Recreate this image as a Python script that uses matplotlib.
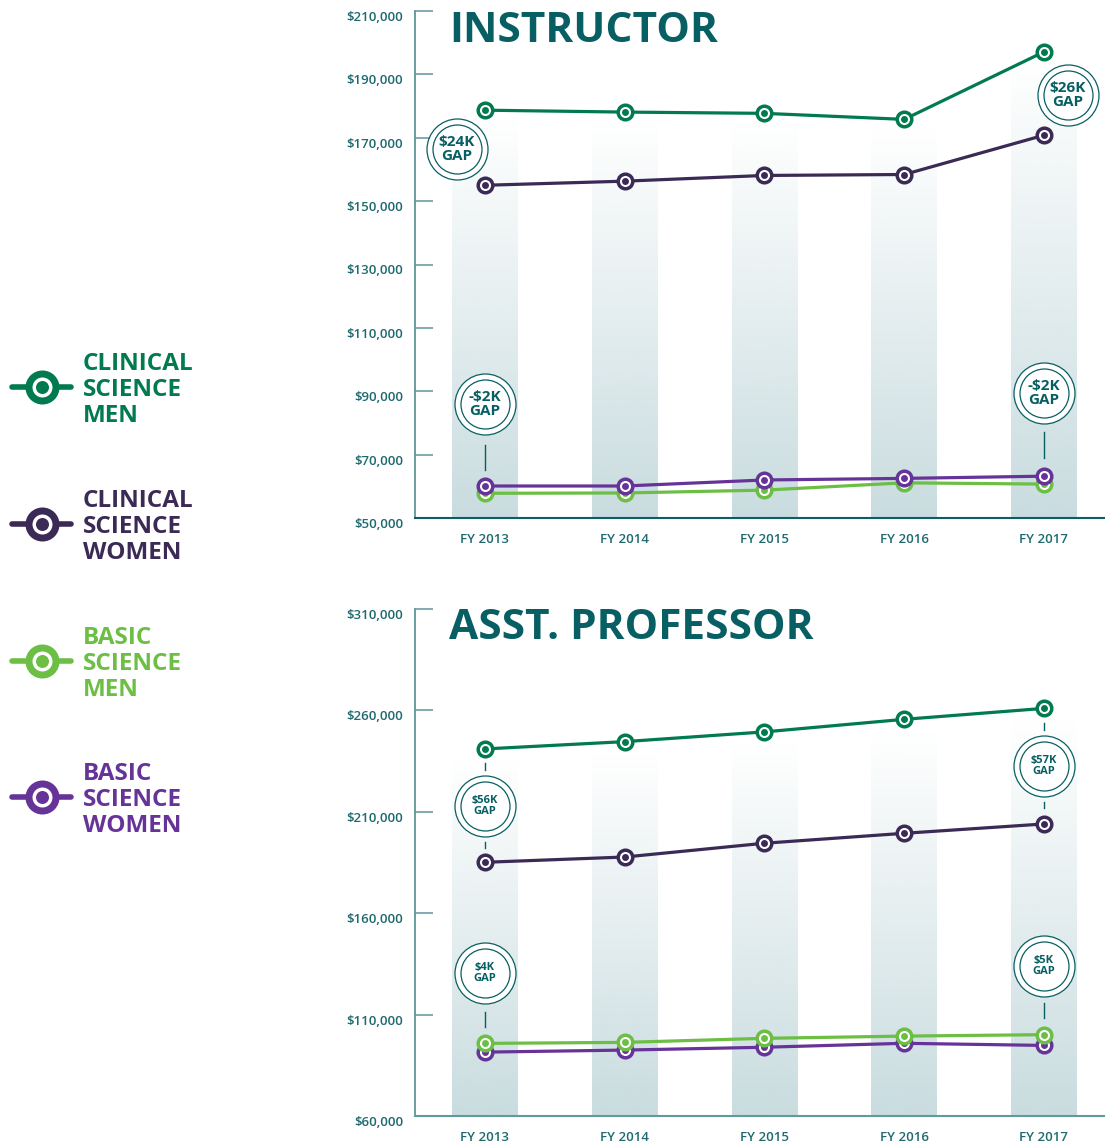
import matplotlib
matplotlib.use('Agg')
import matplotlib.pyplot as plt
import numpy as np
from matplotlib.colors import to_rgb

plt.rcParams['font.family'] = ['Open Sans', 'DejaVu Sans']

# ---------------- data ----------------
years = ['FY 2013', 'FY 2014', 'FY 2015', 'FY 2016', 'FY 2017']

inst_clin_men = [178700, 178100, 177700, 175800, 197100]
inst_clin_women = [155000, 156300, 158100, 158400, 170800]
inst_basic_men = [57800, 57900, 58800, 61100, 60700]
inst_basic_women = [60100, 60100, 62000, 62500, 63200]

asst_clin_men = [241000, 244600, 249400, 255600, 261000]
asst_clin_women = [185100, 187700, 194500, 199400, 204000]
asst_basic_men = [95800, 96300, 98300, 99400, 100100]
asst_basic_women = [91500, 92500, 93900, 95850, 94800]

inst_ticks = [50000, 70000, 90000, 110000, 130000, 150000, 170000, 190000, 210000]
asst_ticks = [60000, 110000, 160000, 210000, 260000, 310000]

legend_labels = [['CLINICAL', 'SCIENCE', 'MEN'],
                 ['CLINICAL', 'SCIENCE', 'WOMEN'],
                 ['BASIC', 'SCIENCE', 'MEN'],
                 ['BASIC', 'SCIENCE', 'WOMEN']]

# gap badges: (x index, y centre, label, connector segments)
inst_badges = [(-0.2, 166400, '$24K\nGAP', []),
               (4.17, 183400, '$26K\nGAP', []),
               (0, 86000, '-$2K\nGAP', [(65100, 73000)]),
               (4, 89400, '-$2K\nGAP', [(68900, 77100)])]
asst_badges = [(0, 212900, '$56K\nGAP', [(230600, 234000), (192200, 195100)]),
               (4, 232600, '$57K\nGAP', [(250300, 253800), (211900, 214800)]),
               (0, 130500, '$4K\nGAP', [(103900, 111300)]),
               (4, 134000, '$5K\nGAP', [(108300, 115700)])]

# ---------------- style ----------------
C_CM = '#007a4e'
C_CW = '#3b2a55'
C_BM = '#6cbe45'
C_BW = '#663399'
TEAL = '#075f63'
AXIS = '#5f959a'
BAND = '#c9dcdf'

W, H = 1105, 1145
fig = plt.figure(figsize=(W / 100, H / 100), dpi=100)
px = 0.72  # points per pixel

x = np.arange(len(years))


def series(ax, y, color, z):
    ax.plot(x, y, color=color, lw=2.3, zorder=z, solid_capstyle='round')
    ax.plot(x, y, ls='none', marker='o', ms=10.5, mfc='white', mec=color,
            mew=2.5, zorder=z + 0.1, clip_on=False)
    ax.plot(x, y, ls='none', marker='o', ms=5, mfc=color, mec=color,
            mew=0, zorder=z + 0.2, clip_on=False)


def bands(ax, tops, ymin, offset):
    rgb = to_rgb(BAND)
    n = 256
    rgba = np.zeros((n, 1, 4))
    rgba[..., 0], rgba[..., 1], rgba[..., 2] = rgb
    rgba[:, 0, 3] = np.linspace(0, 1, n)
    for i, t in enumerate(tops):
        ax.imshow(rgba, extent=[i - 0.235, i + 0.235, ymin, t - offset],
                  origin='upper', aspect='auto', interpolation='bilinear',
                  zorder=0)


def badges(ax, items, fs, ls):
    for bx, by, txt, segs in items:
        ax.scatter([bx], [by], s=(61 * px) ** 2, facecolor='white',
                   edgecolor=TEAL, linewidth=0.9, zorder=10, clip_on=False)
        ax.scatter([bx], [by], s=(49 * px) ** 2, facecolor='white',
                   edgecolor=TEAL, linewidth=0.9, zorder=10.1, clip_on=False)
        ax.text(bx, by, txt, ha='center', va='center', fontsize=fs,
                fontweight='bold', color=TEAL, linespacing=ls, zorder=11)
        for y0, y1 in segs:
            ax.plot([bx, bx], [y0, y1], color=TEAL, lw=1.0, zorder=9)


def style_axes(ax, ticks, bottom_color):
    ax.set_xlim(-0.5, 4.437)
    ax.set_ylim(ticks[0], ticks[-1])
    ax.set_yticks(ticks)
    ax.set_yticklabels(['${:,}'.format(t) for t in ticks])
    ax.set_xticks(x)
    ax.set_xticklabels(years)
    for s in ('top', 'right'):
        ax.spines[s].set_visible(False)
    ax.spines['left'].set_color(AXIS)
    ax.spines['left'].set_linewidth(1.3)
    ax.spines['bottom'].set_color(bottom_color)
    ax.spines['bottom'].set_linewidth(1.5)
    ax.tick_params(axis='y', direction='in', length=13, width=1.1, color=AXIS,
                   pad=8.5, labelsize=9.5, labelcolor='#1f6a6f')
    ax.tick_params(axis='x', length=0, pad=11, labelsize=9.5,
                   labelcolor='#1f6a6f')
    for lab in ax.get_yticklabels():
        lab.set_va('top')
        lab.set_fontweight('semibold')
    for lab in ax.get_xticklabels():
        lab.set_fontweight('semibold')
    ax.set_facecolor('none')


# ---------------- top panel ----------------
ax1 = fig.add_axes([415 / W, 1 - 518 / H, (W - 415) / W, 507 / H])
bands(ax1, inst_clin_men, inst_ticks[0], 2500)
series(ax1, inst_clin_men, C_CM, 3)
series(ax1, inst_clin_women, C_CW, 3)
series(ax1, inst_basic_men, C_BM, 4)
series(ax1, inst_basic_women, C_BW, 5)
badges(ax1, inst_badges, 11, 1.0)
style_axes(ax1, inst_ticks, '#0b5f64')

# ---------------- bottom panel ----------------
ax2 = fig.add_axes([415 / W, 1 - 1116 / H, (W - 415) / W, 507 / H])
bands(ax2, asst_clin_men, asst_ticks[0], 5400)
series(ax2, asst_clin_men, C_CM, 3)
series(ax2, asst_clin_women, C_CW, 3)
series(ax2, asst_basic_women, C_BW, 4)
series(ax2, asst_basic_men, C_BM, 5)
badges(ax2, asst_badges, 8, 1.05)
style_axes(ax2, asst_ticks, '#5f9aa0')

# ---------------- titles ----------------
fig.text(449 / W, 1 - 42 / H, 'INSTRUCTOR', fontsize=30.5, fontweight='bold',
         color=TEAL, ha='left', va='baseline')
fig.text(449 / W, 1 - 639 / H, 'ASST. PROFESSOR', fontsize=30.5,
         fontweight='bold', color=TEAL, ha='left', va='baseline')

# ---------------- legend ----------------
lax = fig.add_axes([0, 0, 1, 1])
lax.set_xlim(0, W)
lax.set_ylim(H, 0)
lax.axis('off')
leg_colors = [C_CM, C_CW, C_BM, C_BW]
leg_y = [387, 524, 661, 797]
for col, cy, lines in zip(leg_colors, leg_y, legend_labels):
    lax.plot([12, 71], [cy, cy], color=col, lw=4.0, solid_capstyle='round',
             zorder=1)
    lax.plot([42], [cy], marker='o', ms=27 * px, mfc='white', mec=col,
             mew=7 * px, zorder=2)
    lax.plot([42], [cy], marker='o', ms=13 * px, mfc=col, mec=col, mew=0,
             zorder=3)
    for k, line in enumerate(lines):
        lax.text(83, cy - 26 + 26 * k, line, fontsize=17.5, fontweight='bold',
                 color=col, ha='left', va='center_baseline')

fig.savefig('out.png', dpi=100)
